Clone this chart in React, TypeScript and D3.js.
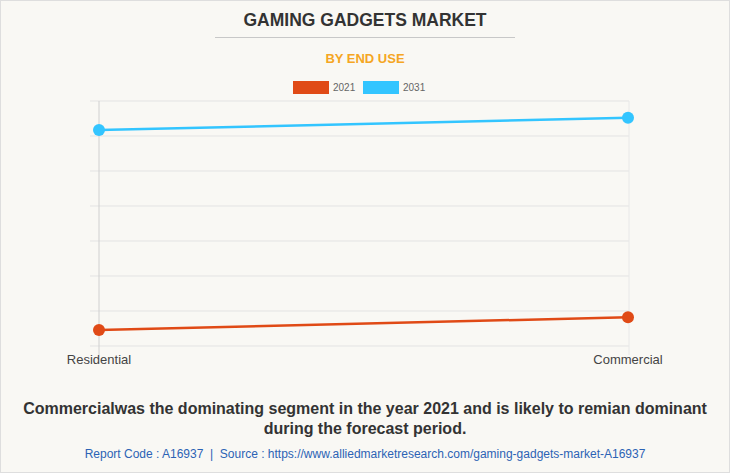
import React from 'react';
import * as d3 from 'd3';

const categories = ['Residential', 'Commercial'];
const seriesNames = ['2021', '2031'];
const values2021 = [0.46, 0.82];
const values2031 = [6.17, 6.52];
const yTicks = [0, 1, 2, 3, 4, 5, 6, 7];
const colors = ['#e04a16', '#33c5ff'];

const W = 730;
const H = 473;
const margin = { top: 101, bottom: 127, left: 99, right: 102 };

export default function App() {
  const x = d3.scalePoint<string>()
    .domain(categories)
    .range([margin.left, W - margin.right]);
  const y = d3.scaleLinear()
    .domain([0, 7])
    .range([H - margin.bottom, margin.top]);

  const line = d3.line<number>()
    .x((_, i) => x(categories[i]) as number)
    .y(d => y(d));

  const series = [values2021, values2031];

  return (
    <svg width={W} height={H} style={{ position: 'absolute', left: 0, top: 0, fontFamily: 'Arial, "Liberation Sans", sans-serif' }}>
      <rect x={0.5} y={0.5} width={W - 1} height={H - 1} fill="#f9f8f4" stroke="#dedede" />

      <text x={W / 2} y={26} textAnchor="middle" fontSize={17.5} fontWeight="bold" fill="#333">GAMING GADGETS MARKET</text>
      <line x1={215} x2={515} y1={37.5} y2={37.5} stroke="#c8c8c8" />
      <text x={W / 2} y={63} textAnchor="middle" fontSize={13} fontWeight="bold" fill="#f5a623">BY END USE</text>

      {/* legend */}
      {seriesNames.map((s, i) => (
        <g key={s} transform={`translate(${293 + i * 70},81)`}>
          <rect width={36} height={13} fill={colors[i]} />
          <text x={40} y={10} fontSize={10} fill="#666">{s}</text>
        </g>
      ))}

      {/* grid */}
      {yTicks.map(t => (
        <line key={t} x1={margin.left - 9} x2={W - margin.right + 1} y1={y(t)} y2={y(t)} stroke="#e3e3e3" />
      ))}
      <line x1={margin.left} x2={margin.left} y1={y(7)} y2={y(0) + 9} stroke="#d0d0d0" />
      <line x1={W - margin.right + 1} x2={W - margin.right + 1} y1={y(7)} y2={y(0) + 9} stroke="#e8e8e8" />

      {/* x labels */}
      {categories.map(c => (
        <text key={c} x={x(c)} y={364} textAnchor="middle" fontSize={13} fill="#444">{c}</text>
      ))}

      {/* lines */}
      {series.map((vals, i) => (
        <g key={i}>
          <path d={line(vals) as string} fill="none" stroke={colors[i]} strokeWidth={2.5} />
          {vals.map((v, j) => (
            <circle key={j} cx={x(categories[j])} cy={y(v)} r={6} fill={colors[i]} />
          ))}
        </g>
      ))}

      <text x={W / 2} y={414} textAnchor="middle" fontSize={16} fontWeight="bold" fill="#333">
        Commercialwas the dominating segment in the year 2021 and is likely to remian dominant
      </text>
      <text x={W / 2} y={434} textAnchor="middle" fontSize={16} fontWeight="bold" fill="#333">
        during the forecast period.
      </text>
      <text x={W / 2} y={458} textAnchor="middle" fontSize={12} fill="#2c63b5" style={{ whiteSpace: 'pre' }}>
        {'Report Code : A16937  |  Source : https://www.alliedmarketresearch.com/gaming-gadgets-market-A16937'}
      </text>
    </svg>
  );
}
